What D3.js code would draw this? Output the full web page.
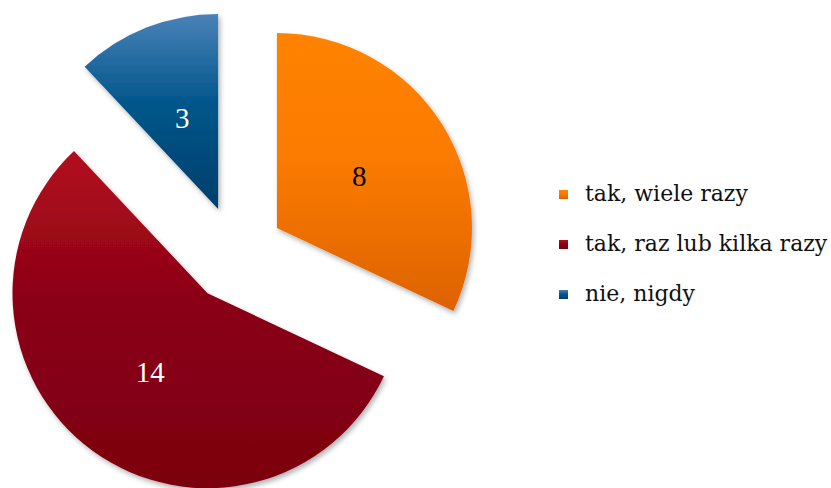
<!DOCTYPE html>
<html>
<head>
<meta charset="utf-8">
<script src="https://cdn.jsdelivr.net/npm/d3@7"></script>
<style>
  html, body { margin: 0; padding: 0; background: #fff; }
  svg { display: block; }
</style>
</head>
<body>
<script>
// Chart data
const categories = ["tak, wiele razy", "tak, raz lub kilka razy", "nie, nigdy"];
const values = [8, 14, 3];
const labelColors = ["#000000", "#ffffff", "#ffffff"];
// gradient stops per slice: top, middle, bottom
const gradTop = ["#ff8203", "#b3111f", "#4a82b8"];
const gradMid = ["#fb7b00", "#8a0014", "#02578c"];
const gradBottom = ["#dd6200", "#7c0010", "#003e6a"];

const width = 831, height = 488;
const cx = 236, cy = 254, radius = 195, explode = 48.5;

const svg = d3.select("body").append("svg")
    .attr("width", width)
    .attr("height", height);

const defs = svg.append("defs");

// soft drop shadow like the office chart
const shadow = defs.append("filter")
    .attr("id", "shadow")
    .attr("x", "-10%").attr("y", "-10%")
    .attr("width", "130%").attr("height", "130%");
shadow.append("feDropShadow")
    .attr("dx", 2).attr("dy", 3)
    .attr("stdDeviation", 2.5)
    .attr("flood-color", "#000")
    .attr("flood-opacity", 0.3);

categories.forEach((c, i) => {
    const g = defs.append("linearGradient")
        .attr("id", "grad" + i)
        .attr("x1", 0).attr("y1", 0)
        .attr("x2", 0).attr("y2", 1);
    g.append("stop").attr("offset", "0%").attr("stop-color", gradTop[i]);
    g.append("stop").attr("offset", "45%").attr("stop-color", gradMid[i]);
    g.append("stop").attr("offset", "100%").attr("stop-color", gradBottom[i]);
});

const pie = d3.pie().sort(null).value(d => d)(values);
const arc = d3.arc().innerRadius(0).outerRadius(radius);

const slices = svg.append("g")
    .attr("transform", `translate(${cx},${cy})`)
    .selectAll("g")
    .data(pie)
    .enter().append("g")
    .attr("transform", d => {
        const a = (d.startAngle + d.endAngle) / 2;
        return `translate(${explode * Math.sin(a)},${-explode * Math.cos(a)})`;
    });

slices.append("path")
    .attr("d", arc)
    .attr("fill", (d, i) => `url(#grad${i})`)
    .attr("filter", "url(#shadow)");

slices.append("text")
    .attr("transform", d => `translate(${arc.centroid(d)})`)
    .attr("text-anchor", "middle")
    .attr("dy", "0.34em")
    .attr("font-family", "Liberation Serif, serif")
    .attr("font-size", 29)
    .attr("fill", (d, i) => labelColors[i])
    .text(d => d.data);

// Legend
const legend = svg.append("g")
    .attr("transform", "translate(559,194.5)")
    .selectAll("g")
    .data(categories)
    .enter().append("g")
    .attr("transform", (d, i) => `translate(0,${i * 50})`);

legend.append("rect")
    .attr("x", 0).attr("y", -4.5)
    .attr("width", 9).attr("height", 9)
    .attr("fill", (d, i) => `url(#grad${i})`);

legend.append("text")
    .attr("x", 26)
    .attr("dy", "0.3em")
    .attr("font-family", "DejaVu Serif, serif")
    .attr("font-size", 22)
    .attr("fill", "#111")
    .text(d => d);
</script>
</body>
</html>
